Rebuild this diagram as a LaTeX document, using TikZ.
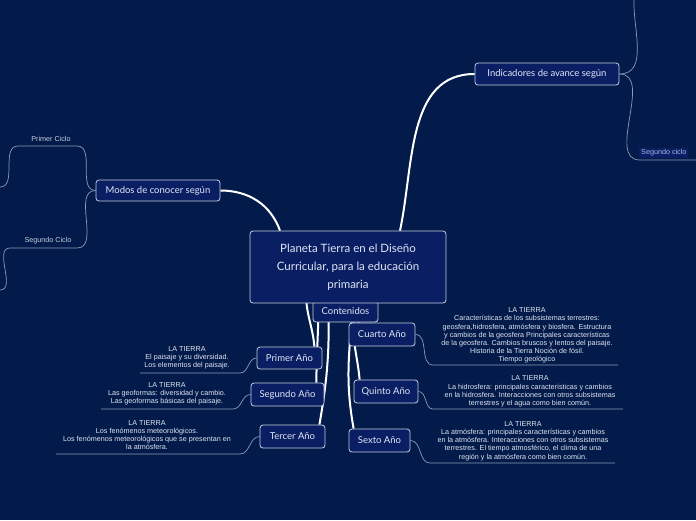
\documentclass[tikz,border=0pt]{standalone}
\usepackage{fontspec}
\setmainfont{Liberation Sans}
\newfontfamily\handfont{Lato}
\usetikzlibrary{positioning, backgrounds}
\definecolor{nightblue}{HTML}{021B4A}
\definecolor{boxblue}{HTML}{0A1E64}
\definecolor{edgegrey}{HTML}{C5CEE0}
\definecolor{twiggrey}{HTML}{8C9BB8}
\definecolor{labelwhite}{HTML}{E0E6F2}
\definecolor{cicloblue}{HTML}{A8B8E8}

\tikzset{
  topic/.style={draw=edgegrey, fill=boxblue, rounded corners=3pt, line width=0.8pt,
    text=labelwhite, align=center, inner sep=0pt, font=\handfont\fontsize{9.5}{11}\selectfont},
  bigtopic/.style={topic, font=\handfont\fontsize{11.5}{18}\selectfont},
  note/.style={text=labelwhite, align=center, inner sep=0pt, font=\fontsize{7.2}{8.2}\selectfont},
  trunk/.style={draw=white, line width=2pt},
  twig/.style={draw=twiggrey, line width=0.7pt}
}

\begin{document}
\begin{tikzpicture}[x=1pt, y=-1pt]

\useasboundingbox (0,0) rectangle (696,520);

% nodes
\node[topic, minimum width=65pt, minimum height=21pt] (cont) at (345.5,311.5) {Contenidos};
\node[bigtopic, minimum width=196pt, minimum height=72pt] (main) at (348,267) {Planeta Tierra en el Diseño\\Curricular, para la educación\\primaria};

\node[topic, minimum width=124pt, minimum height=21pt] (modos) at (158,190.5) {Modos de conocer según};
\node[topic, minimum width=144pt, minimum height=22pt] (indic) at (547,74) {Indicadores de avance según};

\node[topic, minimum width=65pt, minimum height=22pt] (primer) at (289.5,358) {Primer Año};
\node[topic, minimum width=73pt, minimum height=23pt] (segundo) at (287.5,394.5) {Segundo Año};
\node[topic, minimum width=65pt, minimum height=23pt] (tercer) at (292.5,436.5) {Tercer Año};
\node[topic, minimum width=66pt, minimum height=23pt] (cuarto) at (382,334.5) {Cuarto Año};
\node[topic, minimum width=64pt, minimum height=23pt] (quinto) at (386,391.5) {Quinto Año};
\node[topic, minimum width=61pt, minimum height=23pt] (sexto) at (379.5,440.5) {Sexto Año};

% notes
\node[note] (n1) at (187,357.5) {LA TIERRA\\El paisaje y su diversidad.\\Los elementos del paisaje.};
\node[note] (n2) at (167,394) {LA TIERRA\\Las geoformas: diversidad y cambio.\\Las geoformas básicas del paisaje.};
\node[note] (n3) at (147,435) {LA TIERRA\\Los fenómenos meteorológicos.\\Los fenómenos meteorológicos que se presentan en\\la atmósfera.};
\node[note] (n4) at (527,335.5) {LA TIERRA\\Características de los subsistemas terrestres:\\geosfera,hidrosfera, atmósfera y biosfera. Estructura\\y cambios de la geosfera Principales características\\de la geosfera. Cambios bruscos y lentos del paisaje.\\Historia de la Tierra Noción de fósil.\\Tiempo geológico};
\node[note] (n5) at (530,391.5) {LA TIERRA\\La hidrosfera: principales características y cambios\\en la hidrosfera. Interacciones con otros subsistemas\\terrestres y el agua como bien común.};
\node[note] (n6) at (523,441) {LA TIERRA\\La atmósfera: principales características y cambios\\en la atmósfera. Interacciones con otros subsistemas\\terrestres. El tiempo atmosférico, el clima de una\\región y la atmósfera como bien común.};

\node[note, text=edgegrey] (pciclo) at (51,139) {Primer Ciclo};
\node[note, text=edgegrey] (sciclo) at (48,241) {Segundo Ciclo};
\node[note, text=cicloblue, fill=boxblue, inner sep=2pt, anchor=west] (sciclo2) at (639,153) {Segundo ciclo};

% free ends
\coordinate (u1a) at (240,373); \coordinate (u1b) at (140,373);
\coordinate (u2a) at (233,409); \coordinate (u2b) at (101,409);
\coordinate (u3a) at (240,454); \coordinate (u3b) at (56,454);
\coordinate (u4a) at (433,365); \coordinate (u4b) at (618,365);
\coordinate (u5a) at (433,409); \coordinate (u5b) at (623,409);
\coordinate (u6a) at (430,463); \coordinate (u6b) at (615,463);
\coordinate (pc1) at (77,146); \coordinate (pc2) at (18,146); \coordinate (pc3) at (0,187);
\coordinate (sc1) at (77,248); \coordinate (sc2) at (10,248); \coordinate (sc3) at (0,290);
\coordinate (ic1) at (634,0);
\coordinate (ic2) at (640,160); \coordinate (ic3) at (696,160);

\begin{pgfonlayer}{background}
\fill[nightblue] (0,0) rectangle (696,520);
\draw[trunk] ([xshift=-68pt]main.north) to[out=110,in=0] (modos.east);
\draw[trunk] ([xshift=52pt]main.north) to[out=78,in=180] (indic.west);
\draw[trunk] ([xshift=-42pt,yshift=10pt]main.south) to[out=-90,in=95] ([xshift=-8pt]primer.north east);
\draw[trunk] ([xshift=-30pt,yshift=10pt]main.south) to[out=-88,in=90] ([xshift=-8pt]segundo.north east);
\draw[trunk] ([xshift=-20pt,yshift=10pt]main.south) to[out=-88,in=80] ([xshift=-6pt]tercer.north east);
\draw[trunk] ([xshift=10pt,yshift=10pt]main.south) to[out=-80,in=100] ([xshift=10pt]cuarto.north west);
\draw[trunk] ([xshift=8pt]cont.south) to[out=-92,in=95] ([xshift=6pt]quinto.north west);
\draw[trunk] ([xshift=6pt]cont.south) to[out=-95,in=100] ([xshift=5pt]sexto.north west);
\end{pgfonlayer}

\draw[twig] (primer.west) to[out=180,in=0] (u1a) -- (u1b);
\draw[twig] (segundo.west) to[out=180,in=0] (u2a) -- (u2b);
\draw[twig] (tercer.west) to[out=180,in=0] (u3a) -- (u3b);
\draw[twig] (cuarto.east) to[out=0,in=180] (u4a) -- (u4b);
\draw[twig] (quinto.east) to[out=0,in=180] (u5a) -- (u5b);
\draw[twig] (sexto.east) to[out=0,in=180] (u6a) -- (u6b);

\draw[twig] (modos.west) to[out=180,in=0] (pc1) -- (pc2) to[out=180,in=0] (pc3);
\draw[twig] (modos.west) to[out=180,in=0] (sc1) -- (sc2) to[out=180,in=0] (sc3);
\draw[twig] (indic.east) to[out=0,in=-92] (ic1);
\draw[twig] (indic.east) to[out=0,in=180] (ic2) -- (ic3);

\end{tikzpicture}
\end{document}
